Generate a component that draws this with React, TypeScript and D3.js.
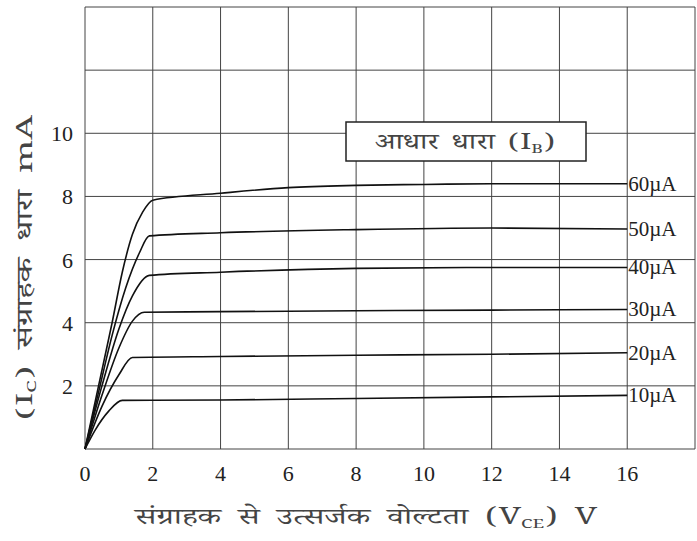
import React from "react";
import * as d3 from "d3";

const xTicks = [0, 2, 4, 6, 8, 10, 12, 14, 16];
const yTicks = [2, 4, 6, 8, 10];
const gridX = [0, 2, 4, 6, 8, 10, 12, 14, 16, 18];
const gridY = [0, 2, 4, 6, 8, 10, 12, 14];

const seriesLabels = ["60µA", "50µA", "40µA", "30µA", "20µA", "10µA"];
const vce60 = [0, 0.4, 0.8, 1.1, 1.4, 1.7, 2, 4, 6, 8, 10, 12, 14, 16];
const ic60 = [0, 2, 4, 5.6, 6.8, 7.5, 7.88, 8.1, 8.28, 8.35, 8.38, 8.4, 8.4, 8.4];
const vce50 = [0, 0.4, 0.8, 1.2, 1.6, 1.9, 4, 8, 12, 16];
const ic50 = [0, 1.8, 3.6, 5.1, 6.2, 6.75, 6.85, 6.95, 7.0, 6.97];
const vce40 = [0, 0.5, 1, 1.4, 1.9, 4, 8, 12, 16];
const ic40 = [0, 2, 3.8, 4.85, 5.5, 5.6, 5.72, 5.75, 5.75];
const vce30 = [0, 0.5, 1, 1.4, 1.75, 4, 8, 12, 16];
const ic30 = [0, 1.7, 3.2, 4.05, 4.33, 4.35, 4.38, 4.4, 4.42];
const vce20 = [0, 0.5, 1, 1.4, 4, 8, 12, 16];
const ic20 = [0, 1.35, 2.35, 2.9, 2.93, 2.97, 3.0, 3.05];
const vce10 = [0, 0.3, 0.7, 1.1, 4, 8, 12, 16];
const ic10 = [0, 0.6, 1.2, 1.54, 1.55, 1.6, 1.65, 1.7];

const allX = [vce60, vce50, vce40, vce30, vce20, vce10];
const allY = [ic60, ic50, ic40, ic30, ic20, ic10];

export default function App() {
  const W = 697, H = 541;
  const x = d3.scaleLinear().domain([0, 18]).range([85, 695]);
  const y = d3.scaleLinear().domain([0, 14]).range([449, 7]);
  const line = d3
    .line<[number, number]>()
    .x((d) => x(d[0]))
    .y((d) => y(d[1]))
    .curve(d3.curveMonotoneX);
  const serif = "'Liberation Serif', 'DejaVu Serif', serif";
  const hindi = "'Noto Serif Devanagari', 'Noto Sans Devanagari', 'Lohit Devanagari', serif";
  return (
    <svg width={W} height={H} style={{ position: "absolute", left: 0, top: 0, background: "#fff" }}>
      <rect width={W} height={H} fill="#fff" />
      {gridX.map((v) => (
        <line key={"gx" + v} x1={x(v)} x2={x(v)} y1={y(0)} y2={y(14)} stroke="#444" strokeWidth={1} />
      ))}
      {gridY.map((v) => (
        <line key={"gy" + v} x1={x(0)} x2={x(18)} y1={y(v)} y2={y(v)} stroke="#444" strokeWidth={1} />
      ))}
      {allX.map((xs, i) => {
        const pts = xs.map((v, j) => [v, allY[i][j]] as [number, number]);
        return <path key={"s" + i} d={line(pts) || ""} fill="none" stroke="#111" strokeWidth={1.6} />;
      })}
      {seriesLabels.map((lab, i) => {
        const ys = allY[i];
        return (
          <text key={"l" + i} x={x(16) + 1} y={y(ys[ys.length - 1]) + 7} fontFamily={serif} fontSize={21} fill="#222">
            {lab}
          </text>
        );
      })}
      {xTicks.map((v) => (
        <text key={"xt" + v} x={x(v)} y={481} textAnchor="middle" fontFamily={serif} fontSize={22} fill="#222">
          {v}
        </text>
      ))}
      {yTicks.map((v) => (
        <text key={"yt" + v} x={73} y={y(v) + 8} textAnchor="end" fontFamily={serif} fontSize={22} fill="#222">
          {v}
        </text>
      ))}
      <rect x={346} y={122} width={240} height={39} fill="#fff" stroke="#222" strokeWidth={1.5} />
      <text x={375} y={149} fontSize={22} fill="#444" fontFamily={hindi} wordSpacing={4} textLength={180} lengthAdjust="spacingAndGlyphs">
        आधार धारा (I<tspan fontSize={13} dy={4}>B</tspan><tspan dy={-4}>)</tspan>
      </text>
      <text
        transform={`translate(32, 420) rotate(-90)`}
        fontSize={22}
        fill="#444"
        fontFamily={hindi}
        wordSpacing={5}
        textLength={305}
        lengthAdjust="spacingAndGlyphs"
      >
        (I<tspan fontSize={13} dy={4}>C</tspan><tspan dy={-4}>) संग्राहक धारा mA</tspan>
      </text>
      <text x={135} y={524} fontSize={23} fill="#444" fontFamily={hindi} wordSpacing={6} textLength={462} lengthAdjust="spacingAndGlyphs">
        संग्राहक से उत्सर्जक वोल्टता (V<tspan fontSize={13} dy={4}>CE</tspan><tspan dy={-4}>) V</tspan>
      </text>
    </svg>
  );
}
